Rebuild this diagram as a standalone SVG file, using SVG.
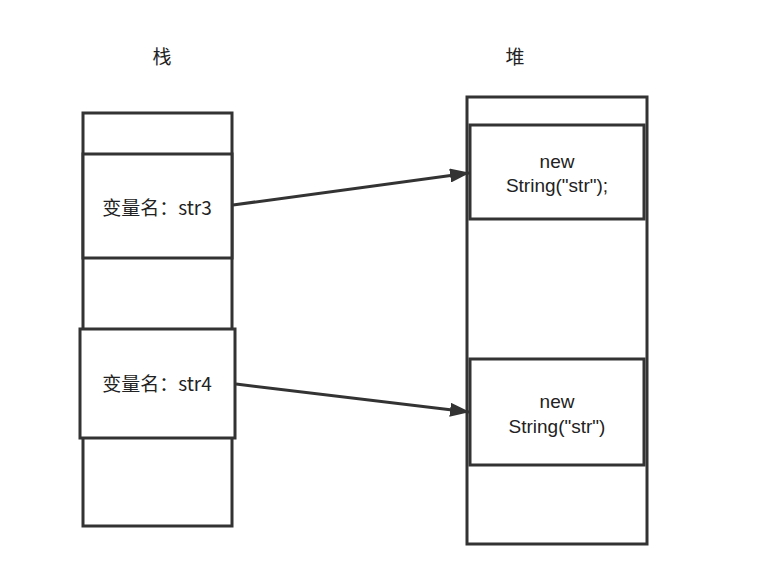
<svg xmlns="http://www.w3.org/2000/svg" width="779" height="570" viewBox="0 0 779 570">
<defs>
<style>
.box{fill:#fff;stroke:#333;stroke-width:3}
.t{font-family:"Microsoft YaHei","Noto Sans CJK SC","Noto Sans",sans-serif;font-size:19px;fill:#222;text-anchor:middle}
.c{font-family:"Liberation Sans",Arial,sans-serif;font-size:19px;fill:#222;text-anchor:middle}
.edge{stroke:#333;stroke-width:3;fill:none}
</style>
<marker id="ah" viewBox="0 0 20 14" refX="19" refY="7" markerWidth="20" markerHeight="14" orient="auto" markerUnits="userSpaceOnUse">
<path d="M0,0 L20,7 L0,14 Z" fill="#333"/>
</marker>
</defs>
<rect width="779" height="570" fill="#fff"/>
<g id="label-stack"><text class="t" x="162" y="64">栈</text></g>
<g id="label-heap"><text class="t" x="515" y="64">堆</text></g>
<g id="stack"><rect class="box" x="83" y="113" width="149" height="413"/></g>
<g id="heap"><rect class="box" x="467" y="97" width="180" height="447"/></g>
<g id="str3"><rect class="box" x="83" y="154" width="149" height="104"/><text class="t" x="157" y="215">变量名：str3</text></g>
<g id="str4"><rect class="box" x="80" y="329" width="155" height="109"/><text class="t" x="157" y="391">变量名：str4</text></g>
<g id="obj1"><rect class="box" x="470" y="125" width="174" height="94"/><text class="c" x="557" y="168">new</text><text class="c" x="557" y="192">String("str");</text></g>
<g id="obj2"><rect class="box" x="470" y="359" width="174" height="106"/><text class="c" x="557" y="408">new</text><text class="c" x="557" y="433">String("str")</text></g>
<g id="connectors">
<line class="edge" x1="233" y1="205" x2="469" y2="173" marker-end="url(#ah)"/>
<line class="edge" x1="236" y1="384" x2="469" y2="412" marker-end="url(#ah)"/>
</g>
</svg>
